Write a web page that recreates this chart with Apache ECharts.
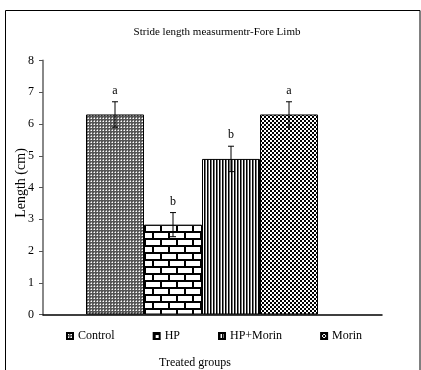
<!DOCTYPE html>
<html>
<head>
<meta charset="utf-8">
<script src="https://cdn.jsdelivr.net/npm/echarts@6/dist/echarts.min.js"></script>
<style>html,body{margin:0;padding:0;background:#fff;}#c{width:421px;height:370px;}</style>
</head>
<body>
<div id="c"></div>
<script>
const groups = ['Control', 'HP', 'HP+Morin', 'Morin'];
const means = [6.3, 2.83, 4.9, 6.3];
const errors = [0.4, 0.38, 0.4, 0.4];
const letters = ['a', 'b', 'b', 'a'];
const yMin = 0, yMax = 8, yStep = 1;
const titleText = 'Stride length measurmentr-Fore Limb';
const yName = 'Length (cm)';
const xName = 'Treated groups';

const FONT = 'Liberation Serif';

function tile(w, h, draw) {
  const c = document.createElement('canvas');
  c.width = w; c.height = h;
  const ctx = c.getContext('2d');
  draw(ctx);
  return { image: c, repeat: 'repeat' };
}
function px(ctx, col, x, y, w, h) { ctx.fillStyle = col; ctx.fillRect(x, y, w || 1, h || 1); }

const patterns = [
  tile(3, 3, ctx => { px(ctx, '#555', 0, 0, 3, 3); px(ctx, '#fff', 1, 1); px(ctx, '#aaa', 0, 1); px(ctx, '#aaa', 1, 0); }),
  tile(16, 14, ctx => {
    px(ctx, '#fff', 0, 0, 16, 14);
    px(ctx, '#000', 0, 0, 16, 2); px(ctx, '#000', 0, 7, 16, 2);
    px(ctx, '#000', 0, 0, 2, 7); px(ctx, '#000', 8, 7, 2, 7);
  }),
  tile(3, 1, ctx => { px(ctx, '#000', 0, 0); px(ctx, '#777', 1, 0); px(ctx, '#fff', 2, 0); }),
  tile(4, 4, ctx => { px(ctx, '#fff', 0, 0, 4, 4); px(ctx, '#000', 0, 0, 2, 2); px(ctx, '#000', 2, 2, 2, 2); })
];

const chart = echarts.init(document.getElementById('c'), null, { renderer: 'canvas' });

const barSeries = groups.map((g, i) => ({
  name: g,
  type: 'bar',
  xAxisIndex: 0, yAxisIndex: 0,
  barGap: '-100%',
  barCategoryGap: '0%',
  data: groups.map((_, j) => j === i ? means[i] : '-'),
  itemStyle: { color: patterns[i], borderColor: '#000', borderWidth: 1 },
  emphasis: { disabled: true },
  silent: true
}));

const errData = groups.map((g, i) => [i, means[i], errors[i]]);

const option = {
  animation: false,
  backgroundColor: '#fff',
  textStyle: { fontFamily: FONT, color: '#000' },
  title: [
    { text: titleText, left: 217, top: 27, textAlign: 'center', padding: 0,
      textStyle: { fontFamily: FONT, fontSize: 11, fontWeight: 'normal', color: '#000' } },
    { text: xName, left: 195, top: 357, textAlign: 'center', padding: 0,
      textStyle: { fontFamily: FONT, fontSize: 12, fontWeight: 'normal', color: '#000' } }
  ],
  legend: {
    data: groups,
    left: 66, top: 330, padding: 0,
    itemWidth: 6, itemHeight: 6, itemGap: 38,
    icon: 'rect',
    textStyle: { fontFamily: FONT, fontSize: 12, color: '#000' },
    selectedMode: false
  },
  grid: [
    { left: 86, right: 103, top: 60.5, bottom: 55.5, outerBoundsMode: 'none', containLabel: false },
    { left: 43, right: 39, top: 60.5, bottom: 55.5, outerBoundsMode: 'none', containLabel: false }
  ],
  xAxis: [
    { type: 'category', gridIndex: 0, data: groups, axisLine: { show: false }, axisTick: { show: false }, axisLabel: { show: false } },
    { type: 'category', gridIndex: 1, data: [''], axisLine: { show: true, lineStyle: { color: '#000', width: 1.5 } }, axisTick: { show: false }, axisLabel: { show: false }, z: 5 }
  ],
  yAxis: [
    { type: 'value', gridIndex: 0, min: yMin, max: yMax, interval: yStep, offset: 43,
      axisLine: { show: true, lineStyle: { color: '#888', width: 2 } },
      axisTick: { show: true, inside: false, length: 4, lineStyle: { color: '#555', width: 1 } },
      axisLabel: { margin: 9, fontFamily: FONT, fontSize: 12, color: '#000' },
      splitLine: { show: false } },
    { type: 'value', gridIndex: 1, min: yMin, max: yMax, interval: yStep, show: false, splitLine: { show: false } }
  ],
  series: barSeries.concat([{
    type: 'custom',
    xAxisIndex: 0, yAxisIndex: 0,
    z: 10, silent: true,
    data: errData,
    encode: { x: 0, y: 1 },
    renderItem: function (params, api) {
      const i = api.value(0), m = api.value(1), e = api.value(2);
      const lbl = letters[params.dataIndex];
      const top = api.coord([i, m + e]);
      const bot = api.coord([i, m - e]);
      const cap = 3;
      const st = { stroke: '#000', lineWidth: 1 };
      return {
        type: 'group',
        children: [
          { type: 'line', shape: { x1: top[0], y1: top[1], x2: bot[0], y2: bot[1] }, style: st },
          { type: 'line', shape: { x1: top[0] - cap, y1: top[1], x2: top[0] + cap, y2: top[1] }, style: st },
          { type: 'line', shape: { x1: bot[0] - cap, y1: bot[1], x2: bot[0] + cap, y2: bot[1] }, style: st },
          { type: 'text', x: top[0], y: top[1] - 11,
            style: { text: lbl, fill: '#000', font: '12px "' + FONT + '"', align: 'center', verticalAlign: 'middle' } }
        ]
      };
    }
  }]),
  graphic: [
    { type: 'text', x: 21, y: 183, rotation: Math.PI / 2, silent: true,
      style: { text: yName, fill: '#000', font: '14px "' + FONT + '"', align: 'center', verticalAlign: 'middle' } },
    { type: 'rect', shape: { x: 5.5, y: 10.5, width: 414.5, height: 400 }, style: { fill: null, stroke: '#000', lineWidth: 1 }, z: 100, silent: true }
  ]
};
chart.setOption(option);
</script>
</body>
</html>
